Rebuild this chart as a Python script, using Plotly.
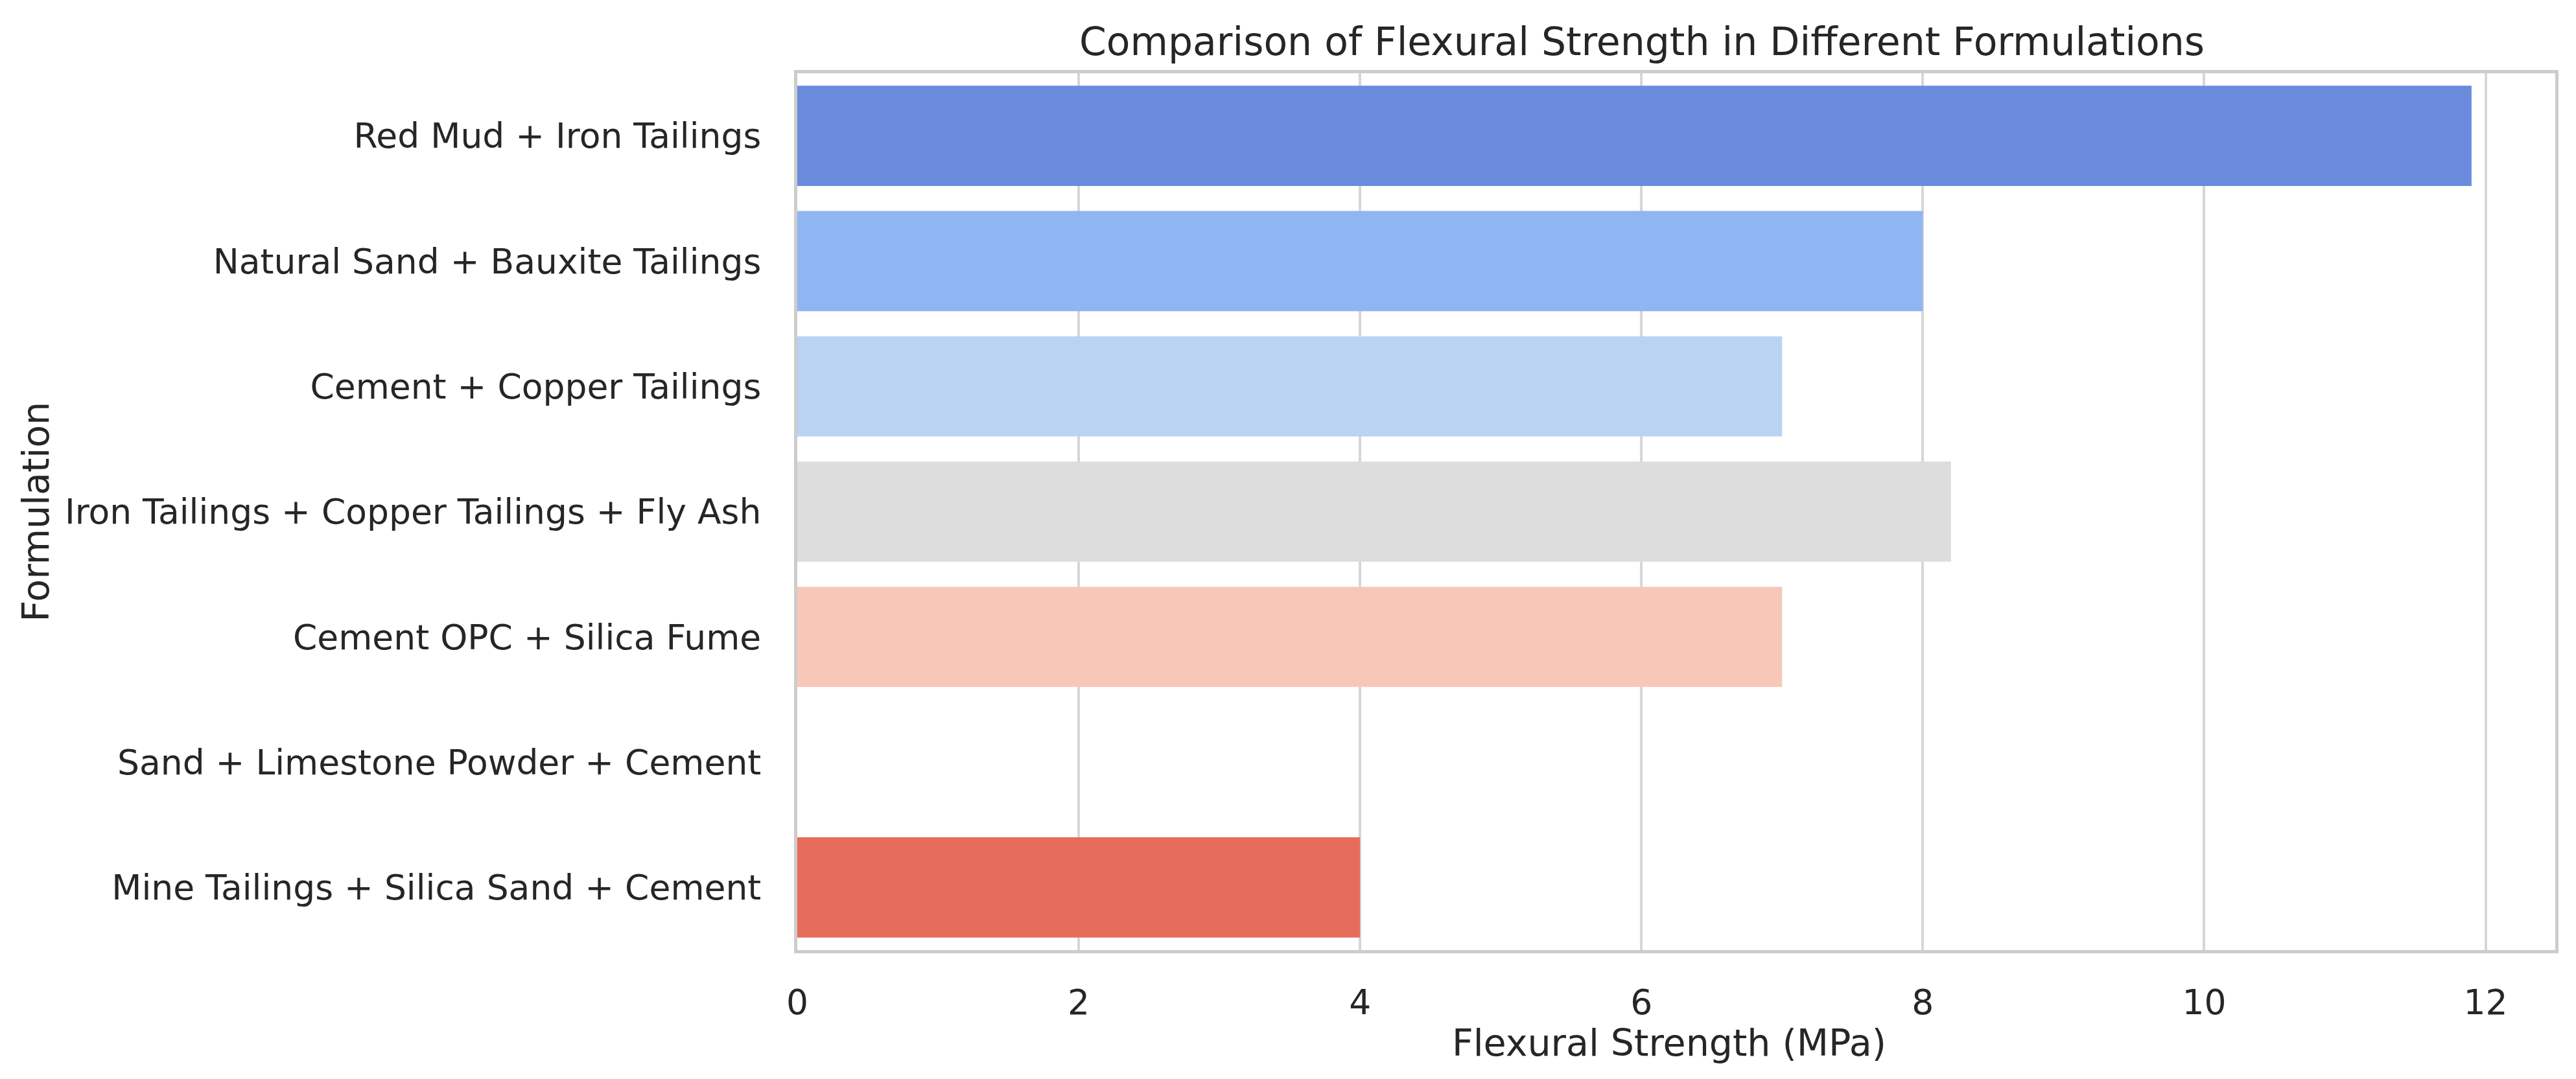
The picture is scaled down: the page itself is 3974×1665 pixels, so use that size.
import plotly.graph_objects as go

formulations = [
    "Red Mud + Iron Tailings",
    "Natural Sand + Bauxite Tailings",
    "Cement + Copper Tailings",
    "Iron Tailings + Copper Tailings + Fly Ash",
    "Cement OPC + Silica Fume",
    "Sand + Limestone Powder + Cement",
    "Mine Tailings + Silica Sand + Cement",
]
flexural_strength = [11.9, 8.0, 7.0, 8.2, 7.0, 0.0, 4.0]
bar_colors = ["#6A8BDC", "#90B5F3", "#BBD3F2", "#DDDDDD", "#F7C8B8", "#F0A285", "#E66C5C"]
x_ticks = [0, 2, 4, 6, 8, 10, 12]

W, H = 3974, 1665
L, R, T, B = 1222, 3934, 105, 1458
text_color = "#262626"
font_family = "DejaVu Sans"
tick_size = 53.5

plot_w = R - L
plot_h = B - T

fig = go.Figure()
fig.add_trace(go.Bar(
    x=flexural_strength,
    y=formulations,
    orientation="h",
    width=0.8,
    marker=dict(color=bar_colors, line=dict(width=0)),
    showlegend=False,
))

fig.update_layout(
    width=W, height=H, autosize=False,
    margin=dict(l=L, r=W - R, t=T, b=H - B, pad=0),
    paper_bgcolor="white", plot_bgcolor="white",
    font=dict(family=font_family, color=text_color, size=tick_size),
    title=dict(
        text="Comparison of Flexural Strength in Different Formulations",
        x=(2525 - L) / plot_w, xref="paper", xanchor="center",
        y=1 - 56 / H, yref="container", yanchor="middle",
        font=dict(size=60, color=text_color, family=font_family),
    ),
    bargap=0.2,
)

fig.update_xaxes(
    range=[0, 12.495],
    tickvals=x_ticks,
    ticktext=[str(v) for v in x_ticks],
    showgrid=True, gridcolor="#d6d6d6", gridwidth=4,
    zeroline=False,
    showline=True, mirror=True, linecolor="#cccccc", linewidth=5,
    ticks="", ticklabelstandoff=30,
    tickfont=dict(size=tick_size, color=text_color, family=font_family),
)
fig.update_yaxes(
    categoryorder="array", categoryarray=formulations,
    autorange="reversed",
    showgrid=False, zeroline=False,
    showline=True, mirror=True, linecolor="#cccccc", linewidth=5,
    ticks="", ticklabelstandoff=40,
    tickfont=dict(size=tick_size, color=text_color, family=font_family),
)

fig.add_annotation(
    text="Flexural Strength (MPa)", showarrow=False,
    xref="paper", yref="paper",
    x=(2567 - L) / plot_w, y=(B - 1601) / plot_h,
    xanchor="center", yanchor="middle",
    font=dict(size=57, color=text_color, family=font_family),
)
fig.add_annotation(
    text="Formulation", showarrow=False, textangle=-90,
    xref="paper", yref="paper",
    x=(46 - L) / plot_w, y=0.5,
    xanchor="center", yanchor="middle",
    font=dict(size=57, color=text_color, family=font_family),
)

fig.write_html("out.html")
